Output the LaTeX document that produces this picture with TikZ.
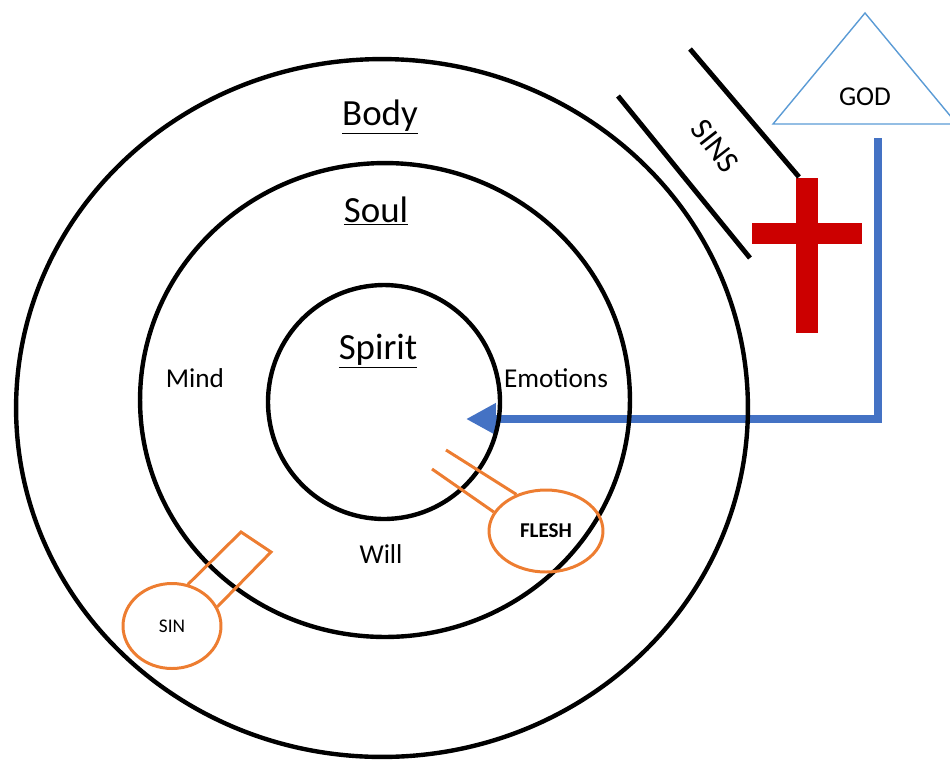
\documentclass[tikz,border=0pt]{standalone}
\usepackage{fontspec}
\setmainfont{Carlito}
\usetikzlibrary{arrows.meta,shapes.geometric}
\definecolor{crossred}{RGB}{204,0,0}
\definecolor{godblue}{RGB}{91,155,213}
\definecolor{pathblue}{RGB}{68,114,196}
\definecolor{fleshorange}{RGB}{237,125,49}
\tikzset{
  ring/.style={draw=black,line width=2.5pt,ellipse,inner sep=0pt},
  sinline/.style={black,line width=2.8pt},
  handle/.style={fleshorange,line width=1.7pt},
  bubble/.style={ellipse,draw=fleshorange,line width=1.7pt,inner sep=0pt},
  bigtext/.style={anchor=base,font=\fontsize{21}{25}\selectfont},
  midtext/.style={anchor=base,font=\fontsize{15.5}{18}\selectfont}
}
\begin{document}
\begin{tikzpicture}[x=0.02cm,y=-0.02cm]
    \path[use as bounding box,clip] (0,0) rectangle (950,762);
    \coordinate (godfoot) at (878,138);
    \coordinate (arrowtip) at (466,419);
    \draw[pathblue,line width=5pt,-{Triangle[length=17pt,width=17pt]}] (godfoot) |- (arrowtip);
    \node[ring,minimum width=14.64cm,minimum height=13.96cm] (body) at (382,408) {};
    \node[ring,minimum width=9.8cm,minimum height=9.48cm] (soul) at (385,400) {};
    \node[ring,minimum width=4.64cm,minimum height=4.68cm] (spirit) at (384,402) {};
    \node[bigtext] (bodylabel) at (380,125) {\underline{Body}};
    \node[bigtext] (soullabel) at (376,222) {\underline{Soul}};
    \node[bigtext] (spiritlabel) at (378,359) {\underline{Spirit}};
    \node[midtext] (mind) at (195,387) {Mind};
    \node[midtext] (emotions) at (556,387) {Emotions};
    \node[midtext] (will) at (381,563) {Will};
    \draw[godblue,line width=0.8pt] (865,13) -- (773,124) -- (957,124) -- cycle;
    \node[midtext] (god) at (865,105) {GOD};
    \fill[crossred] (796,178) rectangle (818,333);
    \fill[crossred] (752,223) rectangle (862,244);
    \draw[sinline] (690,49) -- (799,177);
    \draw[sinline] (618,96) -- (750,258);
    \node[font=\fontsize{18}{21}\selectfont,rotate=-52,inner sep=0pt] (sins) at (715,146) {SINS};
    \node[bubble,minimum width=2.28cm,minimum height=1.64cm,font=\fontsize{12}{14}\selectfont\bfseries] (flesh) at (546,531) {FLESH};
    \draw[handle] (432,469) -- (flesh.160);
    \draw[handle] (446,450) -- (flesh.129);
    \node[bubble,minimum width=1.96cm,minimum height=1.7cm,font=\fontsize{11}{13}\selectfont] (sin) at (172,626) {SIN};
    \draw[handle] (sin.69) -- (241,532) -- (271,552) -- (sin.23);
  \end{tikzpicture}
\end{document}
